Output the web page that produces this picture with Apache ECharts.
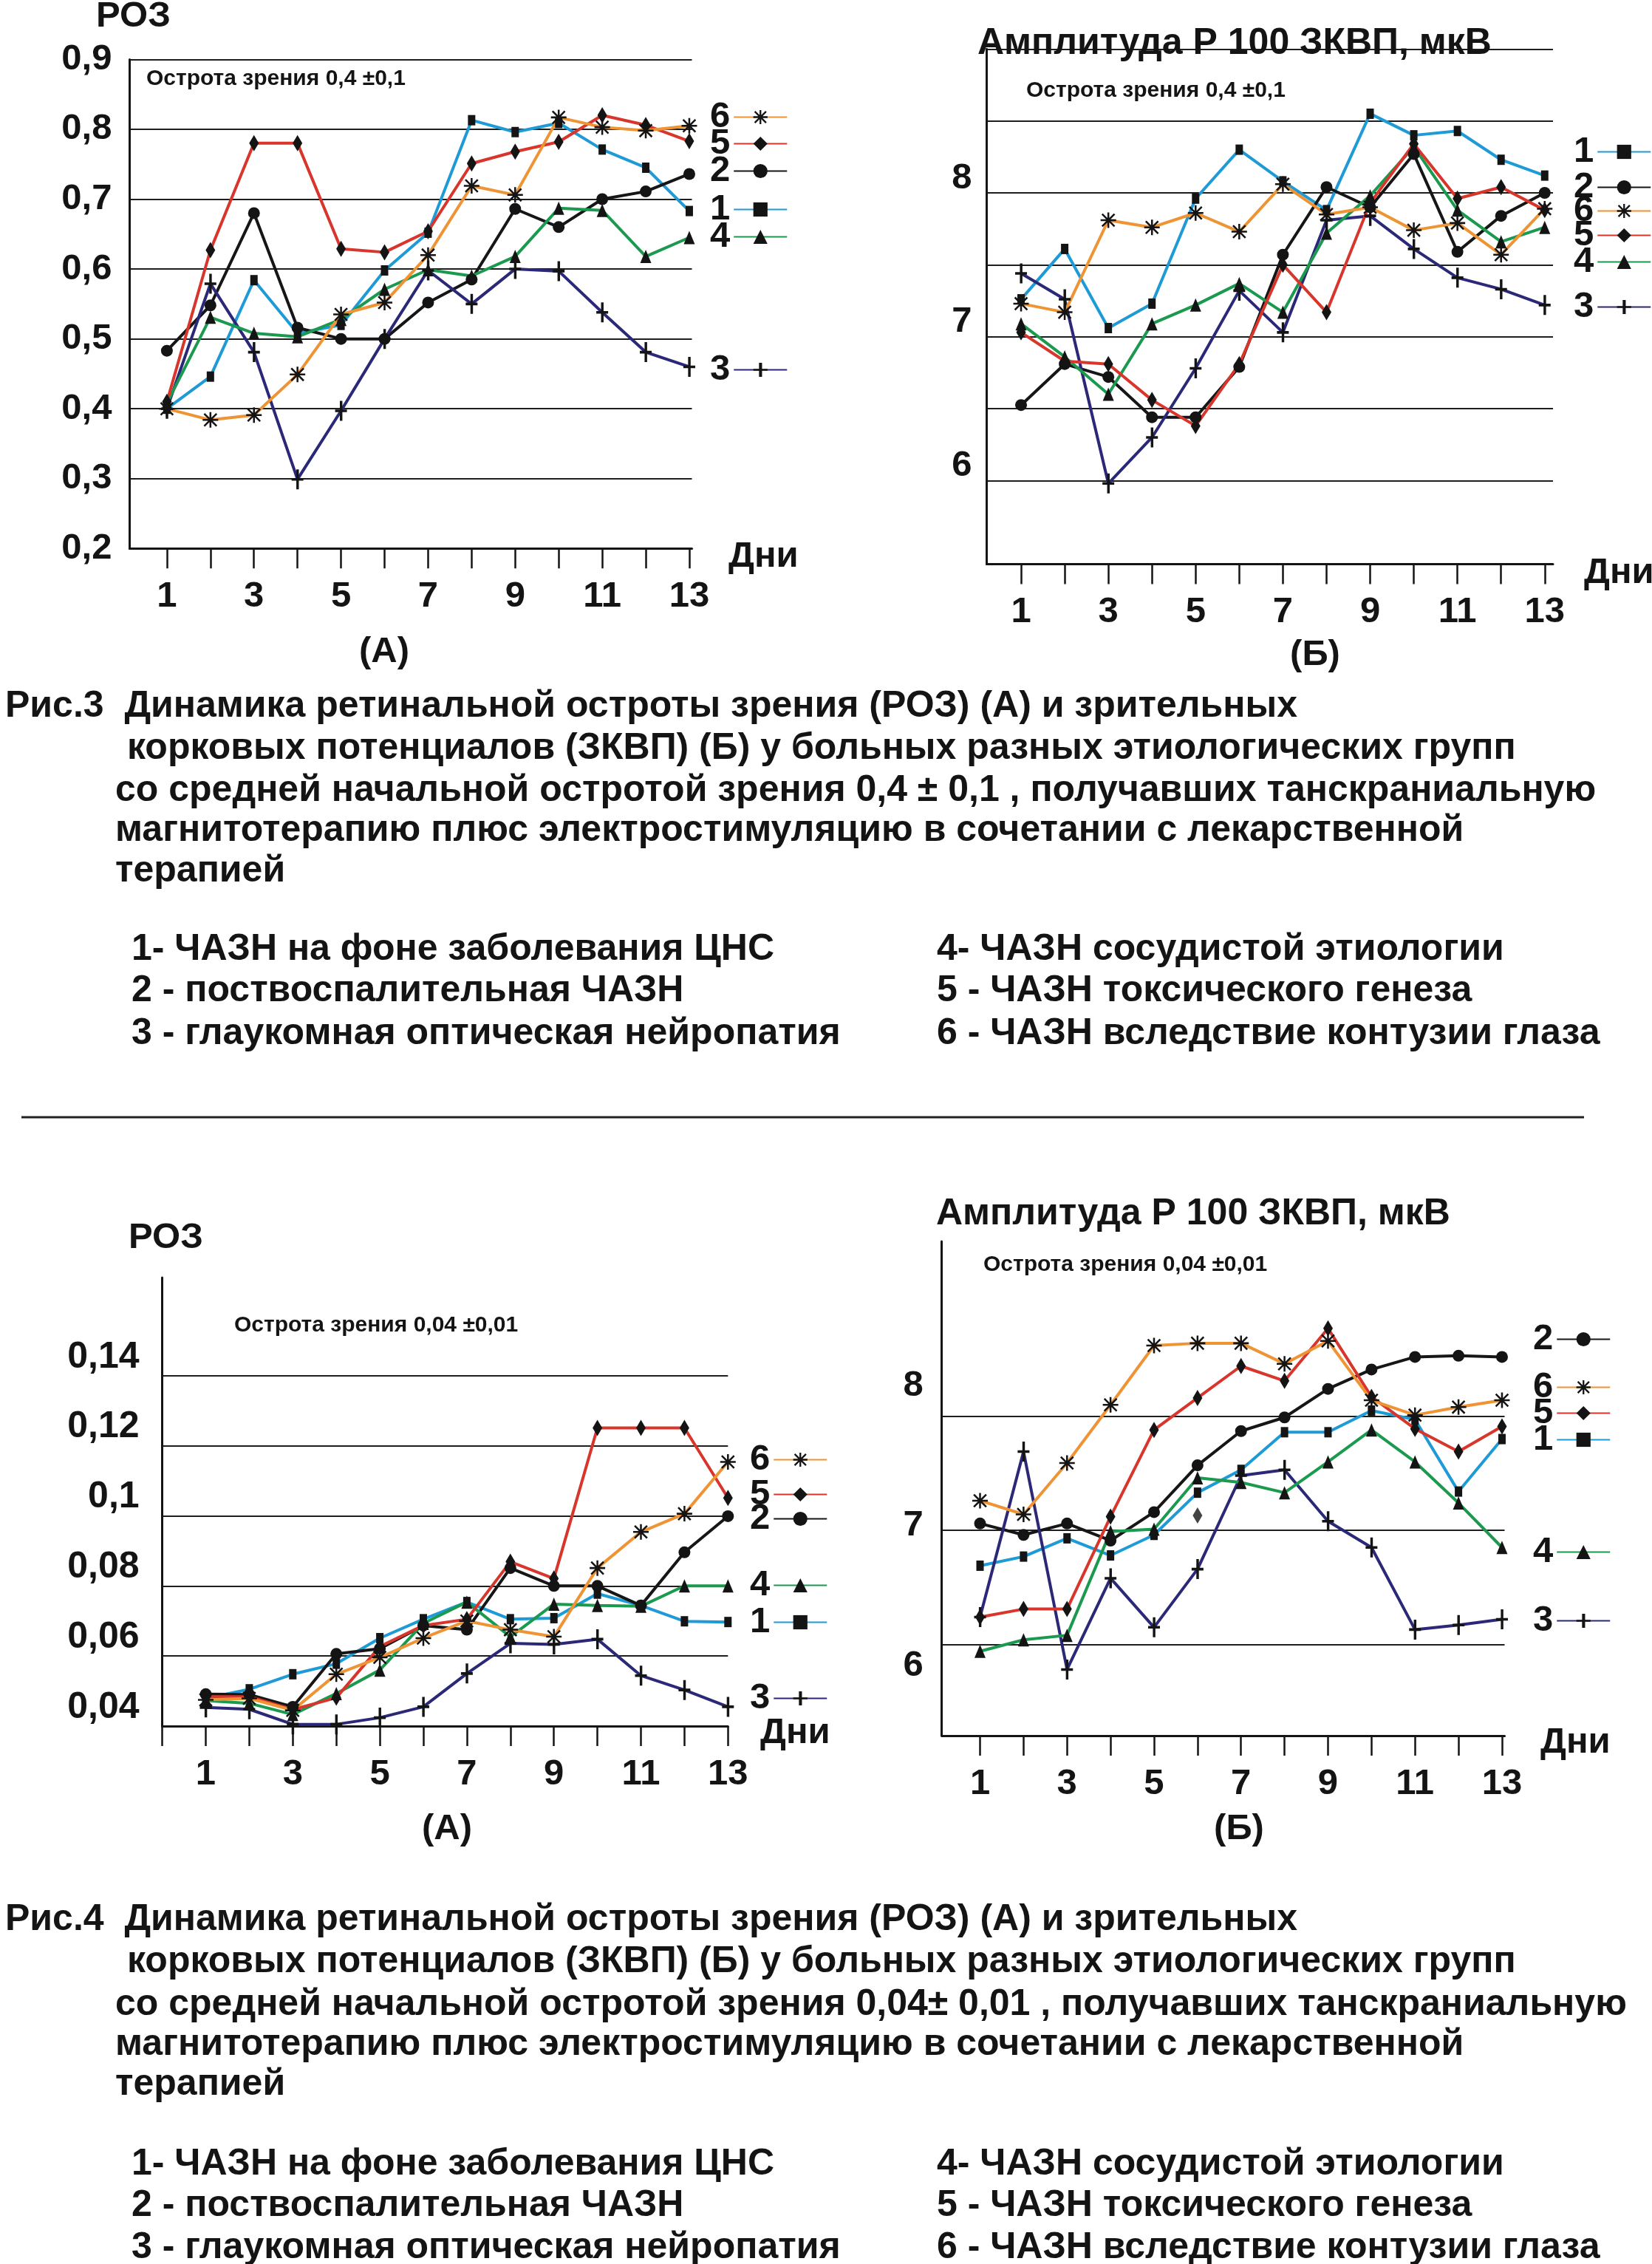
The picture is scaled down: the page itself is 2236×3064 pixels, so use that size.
<!DOCTYPE html>
<html><head><meta charset="utf-8">
<script src="https://cdn.jsdelivr.net/npm/echarts@6/dist/echarts.min.js"></script>
<style>html,body{margin:0;padding:0;background:#fff}#c{width:2236px;height:3064px}</style>
</head><body><div id="c"></div>
<script>
// ---------------- data ----------------
const DAYS = [1,2,3,4,5,6,7,8,9,10,11,12,13];
const X_TICKS = [1,2,3,4,5,6,7,8,9,10,11,12,13];
const X_TICKS_FIG4A = [0,1,2,3,4,5,6,7,8,9,10,11,12,13];
const X_LABELS = [1,3,5,7,9,11,13];

// Рис.3 (А) РОЗ, острота 0,4±0,1
const FIG3A_1 = [0.40,0.446,0.584,0.508,0.52,0.598,0.652,0.813,0.796,0.809,0.771,0.745,0.683];
const FIG3A_2 = [0.483,0.548,0.680,0.516,0.50,0.50,0.552,0.585,0.686,0.660,0.70,0.711,0.736];
const FIG3A_3 = [0.40,0.579,0.481,0.299,0.397,0.50,0.598,0.55,0.60,0.597,0.538,0.481,0.46];
const FIG3A_4 = [0.408,0.531,0.508,0.503,0.528,0.571,0.599,0.59,0.618,0.687,0.684,0.618,0.645];
const FIG3A_5 = [0.41,0.627,0.78,0.78,0.629,0.624,0.654,0.751,0.768,0.782,0.82,0.806,0.783];
const FIG3A_6 = [0.40,0.384,0.391,0.449,0.535,0.552,0.62,0.719,0.706,0.817,0.803,0.798,0.805];
const FIG3A_Y_MIN = 0.2, FIG3A_Y_MAX = 0.9, FIG3A_Y_STEP = 0.1;

// Рис.3 (Б) Амплитуда P100
const FIG3B_1 = [7.26,7.61,7.06,7.23,7.96,8.30,8.08,7.88,8.55,8.40,8.43,8.23,8.12];
const FIG3B_2 = [6.525,6.81,6.72,6.44,6.44,6.79,7.57,8.04,7.90,8.27,7.59,7.84,8.00];
const FIG3B_3 = [7.44,7.26,5.98,6.30,6.78,7.32,7.03,7.81,7.84,7.61,7.41,7.33,7.22];
const FIG3B_4 = [7.09,6.86,6.60,7.09,7.22,7.37,7.17,7.72,7.98,8.32,7.88,7.66,7.76];
const FIG3B_5 = [7.03,6.83,6.81,6.56,6.38,6.81,7.50,7.17,7.93,8.34,7.96,8.04,7.88];
const FIG3B_6 = [7.23,7.17,7.81,7.76,7.86,7.73,8.06,7.85,7.90,7.74,7.79,7.57,7.89];
const FIG3B_Y_GRID = [6,6.5,7,7.5,8,8.5,9];
const FIG3B_Y_LABELS = [6,7,8];

// Рис.4 (А) РОЗ, острота 0,04±0,01
const FIG4A_1 = [0.0479,0.0505,0.0548,0.0578,0.0651,0.0705,0.0754,0.0705,0.0708,0.0778,0.0744,0.0699,0.0697];
const FIG4A_2 = [0.0491,0.0490,0.0455,0.0606,0.0621,0.0687,0.0675,0.0851,0.0800,0.0800,0.0744,0.0896,0.0999];
const FIG4A_3 = [0.0453,0.0448,0.0405,0.0405,0.0424,0.0455,0.0550,0.0636,0.0633,0.0648,0.0544,0.0503,0.0455];
const FIG4A_4 = [0.0473,0.0465,0.0433,0.0493,0.0560,0.0693,0.0754,0.0655,0.0748,0.0744,0.0742,0.0800,0.0800];
const FIG4A_5 = [0.0484,0.0484,0.0447,0.0481,0.0627,0.0687,0.0705,0.0869,0.0821,0.1251,0.1251,0.1251,0.1051];
const FIG4A_6 = [0.0475,0.0479,0.0445,0.0548,0.0596,0.0651,0.0700,0.0675,0.0655,0.0851,0.0954,0.1006,0.1154];
const FIG4A_Y_TICKS = [0.04,0.06,0.08,0.10,0.12,0.14];

// Рис.4 (Б) Амплитуда P100
const FIG4B_1 = [6.69,6.77,6.93,6.78,6.96,7.33,7.53,7.86,7.86,8.05,7.97,7.34,7.80];
const FIG4B_2 = [7.06,6.96,7.06,6.91,7.16,7.57,7.87,7.99,8.24,8.41,8.52,8.53,8.52];
const FIG4B_3 = [6.24,7.69,5.78,6.58,6.15,6.66,7.48,7.53,7.08,6.85,6.13,6.17,6.22];
const FIG4B_4 = [5.94,6.04,6.08,6.99,7.01,7.46,7.42,7.33,7.60,7.88,7.60,7.24,6.85];
const FIG4B_5 = [6.24,6.31,6.31,7.12,7.88,8.16,8.44,8.31,8.77,8.17,7.89,7.69,7.91];
const FIG4B_6 = [7.26,7.14,7.59,8.10,8.62,8.64,8.64,8.46,8.66,8.14,8.01,8.08,8.14];
const FIG4B_STRAY_5 = [[6, 7.13]];
const FIG4B_Y_GRID = [6,7,8];
const FIG4B_Y_LABELS = [6,7,8];

// ---------------- styles ----------------
const FONT = '"Liberation Sans", Arial, Helvetica, sans-serif';
const INK = '#141414';
const COLORS = {'1':'#1e9ad6','2':'#161616','3':'#2b2878','4':'#1b9a4f','5':'#d8362c','6':'#ef9434'};
const ASTERISK = 'path://M8.8,0L11.2,0L11.2,20L8.8,20Z M0,8.8L20,8.8L20,11.2L0,11.2Z M2.85,1.15L18.85,17.15L17.15,18.85L1.15,2.85Z M17.15,1.15L18.85,2.85L2.85,18.85L1.15,17.15Z';
const PLUS = 'path://M5.6,0L8.6,0L8.6,24L5.6,24Z M0,10.4L14,10.4L14,13.6L0,13.6Z';
const SYMBOLS = {
  '1': ['rect', [10,14]],
  '2': ['circle', 16],
  '3': [PLUS, [16,27]],
  '4': ['triangle', [15,18]],
  '5': ['diamond', [13,22]],
  '6': [ASTERISK, [21,21]]
};

function mk(name, gi, yi, vals) {
  return {
    type: 'line', name: name, xAxisIndex: gi, yAxisIndex: yi,
    data: DAYS.map((d, i) => [d, vals[i]]),
    symbol: SYMBOLS[name][0], symbolSize: SYMBOLS[name][1], showAllSymbol: true,
    lineStyle: {color: COLORS[name], width: 4},
    itemStyle: {color: INK},
    emphasis: {disabled: true}, silent: true, animation: false
  };
}

const series = [
  mk('1',0,0,FIG3A_1), mk('2',0,0,FIG3A_2), mk('3',0,0,FIG3A_3), mk('4',0,0,FIG3A_4), mk('5',0,0,FIG3A_5), mk('6',0,0,FIG3A_6),
  mk('1',1,1,FIG3B_1), mk('2',1,1,FIG3B_2), mk('3',1,1,FIG3B_3), mk('4',1,1,FIG3B_4), mk('5',1,1,FIG3B_5), mk('6',1,1,FIG3B_6),
  mk('1',2,2,FIG4A_1), mk('2',2,2,FIG4A_2), mk('3',2,2,FIG4A_3), mk('4',2,2,FIG4A_4), mk('5',2,2,FIG4A_5), mk('6',2,2,FIG4A_6),
  mk('1',3,3,FIG4B_1), mk('2',3,3,FIG4B_2), mk('3',3,3,FIG4B_3), mk('4',3,3,FIG4B_4), mk('5',3,3,FIG4B_5), mk('6',3,3,FIG4B_6),
  {type:'scatter', name:'5*', xAxisIndex:3, yAxisIndex:3, data: FIG4B_STRAY_5, symbol:'diamond', symbolSize:[13,22],
   itemStyle:{color:INK}, silent:true, animation:false}
];

const grids = [
  {left:175.4, top:80.4, width:761.1, height:661.9},
  {left:1335.6, top:66.3, width:766.4, height:697.2},
  {left:219.6, top:1729, width:765.7, height:607},
  {left:1274.7, top:1680, width:761.8, height:669}
];

function xAxis(gi, min, max, ticks) {
  return {
    type:'value', gridIndex:gi, min:min, max:max,
    axisLine:{show:true, onZero:false, lineStyle:{color:INK, width:3}},
    axisTick:{show:true, inside:false, length:27, customValues:ticks, lineStyle:{color:INK, width:2.5}},
    axisLabel:{customValues:X_LABELS, fontSize:49, fontWeight:'bold', fontFamily:FONT, color:INK, margin:41, lineHeight:48,
               formatter: v => String(v)},
    splitLine:{show:false}
  };
}
const comma = v => String(+Number(v).toFixed(2)).replace('.', ',');
const axLine = {show:true, onZero:false, lineStyle:{color:INK, width:3}};
const split = {show:true, lineStyle:{color:'#1e1e1e', width:2}};
const lab = (extra) => Object.assign({fontSize:49, fontWeight:'bold', fontFamily:FONT, color:INK}, extra);

const yAxes = [
  {type:'value', gridIndex:0, min:FIG3A_Y_MIN, max:FIG3A_Y_MAX, interval:FIG3A_Y_STEP,
   axisLine:axLine, axisTick:{show:false}, splitLine:split,
   axisLabel:lab({margin:24, formatter: v => Number(v).toFixed(1).replace('.', ',')})},
  {type:'value', gridIndex:1, min:5.419, max:9,
   axisLine:axLine, axisTick:{show:false, customValues:FIG3B_Y_GRID}, splitLine:split,
   axisLabel:lab({customValues:FIG3B_Y_LABELS, margin:20, verticalAlign:'bottom', lineHeight:40, formatter: v => String(v)})},
  {type:'value', gridIndex:2, min:0.04, max:0.168,
   axisLine:axLine, axisTick:{show:false, customValues:FIG4A_Y_TICKS}, splitLine:split,
   axisLabel:lab({customValues:FIG4A_Y_TICKS, fontSize:50, margin:31, verticalAlign:'bottom', lineHeight:50, formatter: comma})},
  {type:'value', gridIndex:3, min:5.20, max:9.533,
   axisLine:axLine, axisTick:{show:false, customValues:FIG4B_Y_GRID}, splitLine:split,
   axisLabel:{show:false}},
  {type:'value', gridIndex:3, min:5.498, max:9.033, position:'left',
   axisLine:{show:false}, axisTick:{show:false}, splitLine:{show:false},
   axisLabel:lab({customValues:FIG4B_Y_LABELS, margin:25, formatter: v => String(v)})}
];

const xAxes = [
  xAxis(0, 0.143, 13.06, X_TICKS),
  xAxis(1, 0.214, 13.19, X_TICKS),
  xAxis(2, 0, 13.0, X_TICKS_FIG4A),
  xAxis(3, 0.12, 13.06, X_TICKS)
];

// legends: [left, [[name, centerY], ...]]
const LEGEND_POS = [
  [961,  [['6',158],['5',194],['2',231],['1',283],['4',320],['3',500]]],
  [2130, [['1',205],['2',253],['6',285],['5',318],['4',354],['3',415]]],
  [1015, [['6',1975],['5',2022],['2',2055],['4',2145],['1',2195],['3',2298]]],
  [2075, [['2',1812],['6',1877],['5',1912],['1',1948],['4',2100],['3',2193]]]
];
const legends = [];
LEGEND_POS.forEach(([left, items]) => items.forEach(([n, cy]) => legends.push({
  data:[n], left:left, top:cy - 24, orient:'vertical', align:'right', padding:0,
  itemWidth:72, itemHeight:24, selectedMode:false,
  textStyle:{fontSize:49, fontWeight:'bold', color:INK, fontFamily:FONT, lineHeight:48}
})));

// texts: [text, x, y, size, align]
const TEXTS = [
  ['РОЗ', 130, 22, 49, 'left'],
  ['Острота зрения 0,4 ±0,1', 198, 107, 30, 'left'],
  ['Дни', 986, 753, 49, 'left'],
  ['(А)', 520, 882, 49, 'center'],
  ['Амплитуда Р 100 ЗКВП, мкВ', 1323, 59, 50, 'left'],
  ['Острота зрения 0,4 ±0,1', 1389, 123, 30, 'left'],
  ['Дни', 2144, 775, 49, 'left'],
  ['(Б)', 1780, 886, 49, 'center'],
  ['РОЗ', 174, 1675, 49, 'left'],
  ['Острота зрения 0,04 ±0,01', 317, 1794, 30, 'left'],
  ['Дни', 1029, 2345, 49, 'left'],
  ['(А)', 605, 2475, 49, 'center'],
  ['Амплитуда Р 100 ЗКВП, мкВ', 1267, 1643, 50, 'left'],
  ['Острота зрения 0,04 ±0,01', 1331, 1712, 30, 'left'],
  ['Дни', 2085, 2358, 49, 'left'],
  ['(Б)', 1677, 2475, 49, 'center'],
  ['Рис.3  Динамика ретинальной остроты зрения (РОЗ) (А) и зрительных', 7, 956, 50, 'left'],
  ['корковых потенциалов (ЗКВП) (Б) у больных разных этиологических групп', 172, 1013, 50, 'left'],
  ['со средней начальной остротой зрения 0,4 ± 0,1 , получавших танскраниальную', 156, 1070, 50, 'left'],
  ['магнитотерапию плюс электростимуляцию в сочетании с лекарственной', 156, 1124, 50, 'left'],
  ['терапией', 156, 1179, 50, 'left'],
  ['1- ЧАЗН на фоне заболевания ЦНС', 178, 1285, 50, 'left'],
  ['2 - поствоспалительная ЧАЗН', 178, 1341, 50, 'left'],
  ['3 - глаукомная оптическая нейропатия', 178, 1399, 50, 'left'],
  ['4- ЧАЗН сосудистой этиологии', 1268, 1285, 50, 'left'],
  ['5 - ЧАЗН токсического генеза', 1268, 1341, 50, 'left'],
  ['6 - ЧАЗН вследствие контузии глаза', 1268, 1399, 50, 'left'],
  ['Рис.4  Динамика ретинальной остроты зрения (РОЗ) (А) и зрительных', 7, 2598, 50, 'left'],
  ['корковых потенциалов (ЗКВП) (Б) у больных разных этиологических групп', 172, 2655, 50, 'left'],
  ['со средней начальной остротой зрения 0,04± 0,01 , получавших танскраниальную', 156, 2713, 50, 'left'],
  ['магнитотерапию плюс электростимуляцию в сочетании с лекарственной', 156, 2767, 50, 'left'],
  ['терапией', 156, 2821, 50, 'left'],
  ['1- ЧАЗН на фоне заболевания ЦНС', 178, 2929, 50, 'left'],
  ['2 - поствоспалительная ЧАЗН', 178, 2985, 50, 'left'],
  ['3 - глаукомная оптическая нейропатия', 178, 3042, 50, 'left'],
  ['4- ЧАЗН сосудистой этиологии', 1268, 2929, 50, 'left'],
  ['5 - ЧАЗН токсического генеза', 1268, 2985, 50, 'left'],
  ['6 - ЧАЗН вследствие контузии глаза', 1268, 3042, 50, 'left']
];
const graphic = TEXTS.map(([t, x, y, s, a]) => ({
  type:'text', silent:true, z:100,
  style:{text:t, x:x, y:y, font:'bold ' + s + 'px ' + FONT, fill:INK,
         textAlign:a, textVerticalAlign:'middle', align:a, verticalAlign:'middle'}
}));
graphic.push({type:'line', silent:true, shape:{x1:29, y1:1512, x2:2144, y2:1512}, style:{stroke:'#222', lineWidth:3}});

const chart = echarts.init(document.getElementById('c'), null, {renderer:'canvas'});
chart.setOption({
  backgroundColor:'#ffffff',
  animation:false,
  textStyle:{fontFamily:FONT},
  grid:grids, xAxis:xAxes, yAxis:yAxes, series:series, legend:legends, graphic:graphic,
  tooltip:{show:false}
});
</script></body></html>
